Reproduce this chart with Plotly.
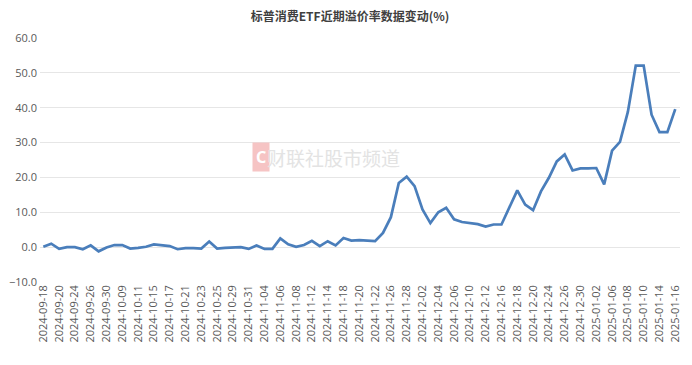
import plotly.graph_objects as go

dates = [
    "2024-09-18", "2024-09-19", "2024-09-20", "2024-09-23", "2024-09-24", "2024-09-25", "2024-09-26", "2024-09-27", "2024-09-30",
    "2024-10-08", "2024-10-09", "2024-10-10", "2024-10-11", "2024-10-14", "2024-10-15", "2024-10-16", "2024-10-17", "2024-10-18",
    "2024-10-21", "2024-10-22", "2024-10-23", "2024-10-24", "2024-10-25", "2024-10-28", "2024-10-29", "2024-10-30", "2024-10-31",
    "2024-11-01", "2024-11-04", "2024-11-05", "2024-11-06", "2024-11-07", "2024-11-08", "2024-11-11", "2024-11-12", "2024-11-13",
    "2024-11-14", "2024-11-15", "2024-11-18", "2024-11-19", "2024-11-20", "2024-11-21", "2024-11-22", "2024-11-25", "2024-11-26",
    "2024-11-27", "2024-11-28", "2024-11-29",
    "2024-12-02", "2024-12-03", "2024-12-04", "2024-12-05", "2024-12-06", "2024-12-09", "2024-12-10", "2024-12-11", "2024-12-12",
    "2024-12-13", "2024-12-16", "2024-12-17", "2024-12-18", "2024-12-19", "2024-12-20", "2024-12-23", "2024-12-24", "2024-12-25",
    "2024-12-26", "2024-12-27", "2024-12-30", "2024-12-31",
    "2025-01-02", "2025-01-03", "2025-01-06", "2025-01-07", "2025-01-08", "2025-01-09", "2025-01-10", "2025-01-13", "2025-01-14",
    "2025-01-15", "2025-01-16",
]

premium = [
    0.1, 1.0, -0.5, 0.0, 0.0, -0.6, 0.5, -1.2, -0.1,
    0.6, 0.6, -0.4, -0.2, 0.1, 0.8, 0.6, 0.3, -0.6,
    -0.3, -0.3, -0.4, 1.6, -0.4, -0.2, -0.2, 0.0, -0.5,
    0.5, -0.5, -0.5, 2.5, 0.8, 0.1, 0.6, 1.8, 0.3,
    1.7, 0.5, 2.6, 1.9, 2.0, 1.8, 1.7, 4.1, 8.6,
    18.4, 20.2, 17.5,
    10.8, 6.9, 10.0, 11.3, 8.0, 7.2, 6.9, 6.6, 5.9,
    6.5, 6.5, 11.6, 16.3, 12.2, 10.6, 16.0, 19.9, 24.6,
    26.6, 22.0, 22.6, 22.6,
    22.7, 18.0, 27.7, 30.2, 38.8, 52.1, 52.1, 38.0, 33.0,
    33.0, 39.6,
]

tick_labels = dates[::2]
y_ticks = [-10, 0, 10, 20, 30, 40, 50, 60]

fig = go.Figure()
fig.add_trace(go.Scatter(
    x=dates, y=premium, mode="lines",
    line=dict(color="#4a7ebb", width=2.7),
    hoverinfo="x+y",
))

fig.update_layout(
    width=684, height=357,
    margin=dict(l=32, r=12, t=30, b=83),
    paper_bgcolor="white", plot_bgcolor="white",
    showlegend=False,
    title=dict(
        text="<b>标普消费ETF近期溢价率数据变动(%)</b>",
        x=0.5, xanchor="center", y=0.975, yanchor="middle",
        font=dict(family="Noto Sans CJK SC", size=12, color="#404040"),
    ),
    font=dict(family="Noto Sans CJK SC, Open Sans, sans-serif", size=11, color="#595959"),
)

fig.update_xaxes(
    type="category",
    categoryorder="array", categoryarray=dates,
    tickmode="array", tickvals=tick_labels, ticktext=tick_labels,
    tickangle=-90,
    tickfont=dict(family="Open Sans, Noto Sans, sans-serif", size=11, color="#595959"),
    showgrid=False, showline=False, zeroline=False,
    ticks="", ticklen=0,
    range=[-0.42, 80.6],
    automargin=False,
)

fig.update_yaxes(
    range=[-10, 60],
    tickmode="array", tickvals=y_ticks,
    tickformat=".1f",
    showgrid=True, gridcolor="#e6e6e6", gridwidth=1,
    zeroline=False, showline=False,
    tickfont=dict(family="Open Sans, Noto Sans, sans-serif", size=11, color="#595959"),
    ticks="", ticklen=0,
    ticklabelstandoff=2,
    automargin=False,
)

# watermark
fig.add_annotation(
    x=0.331, y=0.512, xref="paper", yref="paper",
    text="<b>C</b>", showarrow=False,
    font=dict(family="Noto Sans", size=16, color="white"),
    bgcolor="#f6c4c4", borderpad=3,
)
fig.add_annotation(
    x=0.352, y=0.512, xref="paper", yref="paper", xanchor="left",
    text="财联社股市频道", showarrow=False,
    font=dict(family="Noto Sans CJK SC", size=19, color="#e3e3e3"),
)

fig.write_html("out.html")
